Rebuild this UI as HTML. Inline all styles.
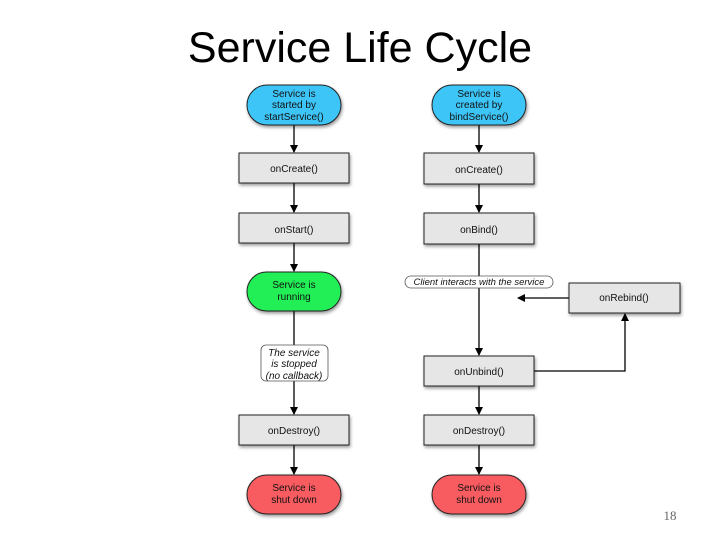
<!DOCTYPE html>
<html><head><meta charset="utf-8"><style>
body{margin:0;background:#fff;width:720px;height:540px;overflow:hidden}
svg{display:block}
</style></head><body>
<svg width="720" height="540" viewBox="0 0 720 540" xmlns="http://www.w3.org/2000/svg" font-family="Liberation Sans, sans-serif">
<defs>
<marker id="a" markerWidth="8" markerHeight="8" refX="7" refY="4" orient="auto" markerUnits="userSpaceOnUse"><path d="M0,0 L8,4 L0,8 z" fill="#000"/></marker>
<filter id="s" x="-10%" y="-10%" width="130%" height="140%"><feDropShadow dx="1" dy="2" stdDeviation="1.5" flood-opacity="0.4"/></filter>
</defs>
<text x="360" y="62" font-size="43" text-anchor="middle" fill="#000">Service Life Cycle</text>
<text x="670" y="520" font-size="13" font-family="Liberation Serif, serif" fill="#666" text-anchor="middle">18</text>
<g stroke="#000" stroke-width="1.3" fill="none">
<line x1="294" y1="125" x2="294" y2="152" marker-end="url(#a)"/>
<line x1="294" y1="183" x2="294" y2="212" marker-end="url(#a)"/>
<line x1="294" y1="243" x2="294" y2="271" marker-end="url(#a)"/>
<line x1="294" y1="311" x2="294" y2="414" marker-end="url(#a)"/>
<line x1="294" y1="445" x2="294" y2="474" marker-end="url(#a)"/>
<line x1="479" y1="125" x2="479" y2="152" marker-end="url(#a)"/>
<line x1="479" y1="184" x2="479" y2="212" marker-end="url(#a)"/>
<line x1="479" y1="244" x2="479" y2="355" marker-end="url(#a)"/>
<line x1="479" y1="386" x2="479" y2="414" marker-end="url(#a)"/>
<line x1="479" y1="445" x2="479" y2="474" marker-end="url(#a)"/>
<line x1="569" y1="298" x2="518" y2="298" marker-end="url(#a)"/>
<polyline points="534,371 625,371 625,314" marker-end="url(#a)"/>
</g>
<g stroke="#222" stroke-width="1" filter="url(#s)">
<rect x="247" y="85" width="94" height="40" rx="20" fill="#3ec5f7"/>
<rect x="432" y="85" width="94" height="40" rx="20" fill="#3ec5f7"/>
<rect x="247" y="272" width="94" height="39" rx="19.5" fill="#22ee55"/>
<rect x="247" y="475" width="94" height="39" rx="19.5" fill="#f85c60"/>
<rect x="432" y="475" width="94" height="39" rx="19.5" fill="#f85c60"/>
<rect x="239" y="153" width="110" height="30" fill="#e6e6e6"/>
<rect x="239" y="213" width="110" height="30" fill="#e6e6e6"/>
<rect x="239" y="415" width="110" height="30" fill="#e6e6e6"/>
<rect x="424" y="153" width="110" height="31" fill="#e6e6e6"/>
<rect x="424" y="213" width="110" height="31" fill="#e6e6e6"/>
<rect x="424" y="356" width="110" height="30" fill="#e6e6e6"/>
<rect x="424" y="415" width="110" height="30" fill="#e6e6e6"/>
<rect x="569" y="283" width="111" height="30" fill="#e6e6e6"/>
</g>
<rect x="261" y="345" width="67" height="36" rx="5" fill="#fff" stroke="#555" stroke-width="0.8"/>
<rect x="405" y="276" width="148" height="12" rx="6" fill="#fff" stroke="#555" stroke-width="0.8"/>
<g font-size="10" text-anchor="middle" fill="#111">
<text x="294" y="97">Service is</text><text x="294" y="108">started by</text><text x="294" y="120">startService()</text>
<text x="479" y="97">Service is</text><text x="479" y="108">created by</text><text x="479" y="120">bindService()</text>
<text x="294" y="288">Service is</text><text x="294" y="300">running</text>
<text x="294" y="491">Service is</text><text x="294" y="503">shut down</text>
<text x="479" y="491">Service is</text><text x="479" y="503">shut down</text>
<text x="294" y="172">onCreate()</text>
<text x="294" y="233">onStart()</text>
<text x="294" y="434">onDestroy()</text>
<text x="479" y="173">onCreate()</text>
<text x="479" y="233">onBind()</text>
<text x="479" y="375">onUnbind()</text>
<text x="479" y="434">onDestroy()</text>
<text x="624" y="301">onRebind()</text>
<g font-style="italic">
<text x="294" y="356">The service</text><text x="294" y="367">is stopped</text><text x="294" y="379">(no callback)</text>
<text x="479" y="285" font-size="9.5">Client interacts with the service</text>
</g>
</g>
</svg>
</body></html>
